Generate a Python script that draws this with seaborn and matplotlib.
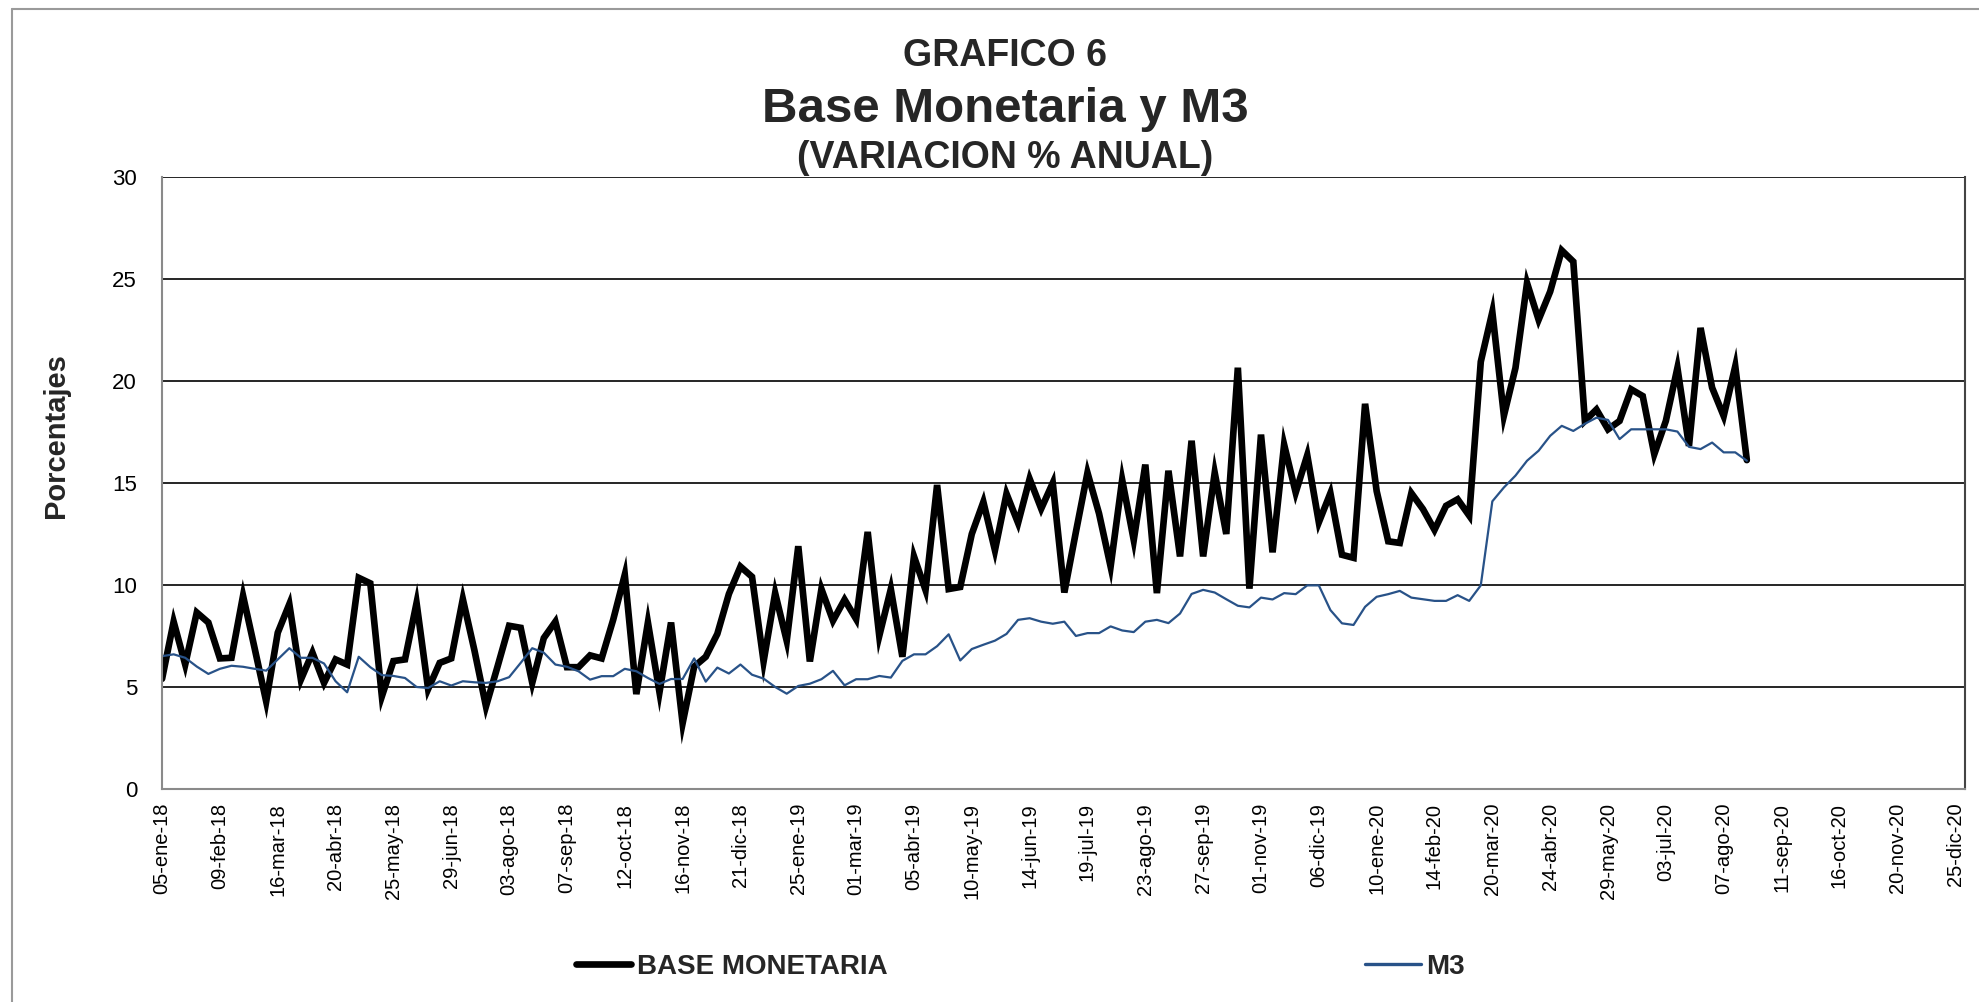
import matplotlib
matplotlib.use("Agg")
import matplotlib.pyplot as plt
import pandas as pd
import seaborn as sns

# --------------------------------------------------------------
# Datos: variación % anual semanal (05-ene-18 a 21-ago-20)
# --------------------------------------------------------------
fecha_inicio = "2018-01-05"
n_semanas = 138

base_monetaria = [
    5.4, 8.2, 6.1, 8.65, 8.16, 6.4, 6.43, 9.47, 6.9, 4.29,
    7.66, 9.06, 5.36, 6.68, 5.2, 6.35, 6.1, 10.35, 10.08, 4.54,
    6.27, 6.35, 9.12, 4.9, 6.18, 6.4, 9.31, 6.8, 4.05, 6.0,
    8.0, 7.9, 5.2, 7.4, 8.2, 5.97, 5.97, 6.55, 6.4, 8.3,
    10.5, 4.65, 8.16, 4.74, 8.16, 3.22, 6.0, 6.48, 7.6, 9.56,
    10.9, 10.4, 6.25, 9.6, 7.26, 11.9, 6.25, 9.8, 8.25, 9.28,
    8.33, 12.6, 7.5, 9.8, 6.48, 11.4, 9.75, 14.9, 9.8, 9.9,
    12.5, 14.07, 11.7, 14.47, 13.04, 15.2, 13.74, 15.0, 9.63, 12.6,
    15.5, 13.5, 10.9, 15.15, 12.2, 15.9, 9.6, 15.6, 11.4, 17.07,
    11.4, 15.5, 12.5, 20.65, 9.82, 17.37, 11.6, 16.88, 14.53, 16.36,
    13.07, 14.5, 11.48, 11.33, 18.88, 14.6, 12.14, 12.06, 14.5, 13.72,
    12.7, 13.88, 14.2, 13.4, 20.94, 23.38, 18.3, 20.64, 24.8, 23.0,
    24.38, 26.4, 25.85, 18.04, 18.6, 17.63, 18.04, 19.59, 19.26, 16.41,
    18.04, 20.64, 16.82, 22.6, 19.67, 18.28, 20.72, 16.12,
]

m3 = [
    6.51, 6.6, 6.43, 6.0, 5.64, 5.89, 6.04, 5.99, 5.89, 5.8,
    6.35, 6.9, 6.43, 6.43, 6.15, 5.28, 4.74, 6.48, 5.97, 5.58,
    5.54, 5.44, 5.0, 4.95, 5.28, 5.07, 5.28, 5.23, 5.2, 5.28,
    5.48, 6.18, 6.9, 6.68, 6.1, 5.99, 5.77, 5.36, 5.53, 5.53,
    5.89, 5.77, 5.44, 5.15, 5.39, 5.39, 6.4, 5.26, 5.95, 5.66,
    6.1, 5.6, 5.41, 5.0, 4.67, 5.05, 5.16, 5.38, 5.79, 5.08,
    5.38, 5.38, 5.54, 5.46, 6.28, 6.6, 6.6, 7.0, 7.58, 6.3,
    6.86, 7.07, 7.27, 7.6, 8.29, 8.37, 8.2, 8.1, 8.2, 7.5,
    7.64, 7.64, 7.97, 7.77, 7.69, 8.2, 8.29, 8.13, 8.6, 9.56,
    9.76, 9.63, 9.3, 8.98, 8.9, 9.38, 9.29, 9.6, 9.55, 9.98,
    9.98, 8.77, 8.12, 8.04, 8.93, 9.42, 9.55, 9.71, 9.38, 9.3,
    9.22, 9.22, 9.5, 9.22, 9.98, 14.1, 14.78, 15.36, 16.09, 16.58,
    17.31, 17.8, 17.55, 17.9, 18.2, 18.09, 17.15, 17.63, 17.63, 17.63,
    17.63, 17.52, 16.77, 16.66, 16.98, 16.5, 16.5, 16.09,
]

meses = ["ene", "feb", "mar", "abr", "may", "jun",
         "jul", "ago", "sep", "oct", "nov", "dic"]
y_ticks = [0, 5, 10, 15, 20, 25, 30]

fechas = pd.date_range(fecha_inicio, periods=n_semanas, freq="7D")
df = pd.DataFrame({"fecha": fechas, "BASE MONETARIA": base_monetaria, "M3": m3})

# ticks del eje x cada 5 semanas, hasta 25-dic-20
tick_fechas = pd.date_range(fecha_inicio, "2020-12-25", freq="35D")
tick_labels = [f"{d.day:02d}-{meses[d.month - 1]}-{d.strftime('%y')}" for d in tick_fechas]

# ==============================================================
# Estilo
# ==============================================================
sns.set_theme(style="white")
plt.rcParams["font.family"] = ["Liberation Sans", "DejaVu Sans"]

fig = plt.figure(figsize=(19.79, 10.02), dpi=100)
ax = fig.add_axes([0.0819, 0.2126, 0.911, 0.6108])

sns.lineplot(data=df, x="fecha", y="BASE MONETARIA", ax=ax, color="black",
             linewidth=4.8, label="BASE MONETARIA", solid_joinstyle="miter")
sns.lineplot(data=df, x="fecha", y="M3", ax=ax, color="#285288",
             linewidth=1.6, label="M3")

ax.set_xlim(pd.Timestamp(fecha_inicio), pd.Timestamp("2020-12-31"))
ax.set_ylim(0, 30)
ax.set_yticks(y_ticks)
ax.set_yticklabels([str(v) for v in y_ticks], fontsize=16)
ax.set_xticks(tick_fechas)
ax.set_xticklabels(tick_labels, rotation=90, fontsize=14.5)

ax.yaxis.grid(True, color="black", linewidth=1.2)
ax.xaxis.grid(False)
ax.set_axisbelow(True)

for side in ["left", "bottom"]:
    ax.spines[side].set_color("#8a8a8a")
    ax.spines[side].set_linewidth(1.5)
ax.spines["right"].set_color("#444444")
ax.spines["right"].set_linewidth(1.5)
ax.spines["top"].set_visible(False)

ax.tick_params(axis="both", which="major", direction="out", length=7,
               width=1.3, color="#8a8a8a", labelcolor="black")
ax.tick_params(axis="y", pad=11)
ax.tick_params(axis="x", pad=3)

ax.set_xlabel("")
ax.set_ylabel("Porcentajes", fontsize=21, fontweight="bold")
ax.yaxis.set_label_coords(-0.051, 0.578)

# Títulos
fig.text(0.508, 0.944, "GRAFICO 6", ha="center", va="center",
         fontsize=27, fontweight="bold")
fig.text(0.508, 0.891, "Base Monetaria y M3", ha="center", va="center",
         fontsize=35.5, fontweight="bold")
fig.text(0.508, 0.842, "(VARIACION % ANUAL)", ha="center", va="center",
         fontsize=27, fontweight="bold")

# Leyenda inferior
ax.legend_.remove()
handles, labels = ax.get_legend_handles_labels()
leg = fig.legend(handles, labels, loc="center left", bbox_to_anchor=(0.291, 0.035),
                 ncol=2, frameon=False, prop={"weight": "bold", "size": 20},
                 handlelength=2.0, handletextpad=0.2, columnspacing=17.2,
                 borderpad=0, borderaxespad=0)
leg.get_lines()[0].set_solid_capstyle("round")
leg.get_lines()[1].set_linewidth(2.4)

# Marco exterior del gráfico
fig.add_artist(plt.Line2D([0.006, 0.006], [0, 0.991], color="#9a9a9a", linewidth=1.5))
fig.add_artist(plt.Line2D([0.006, 1.0], [0.991, 0.991], color="#9a9a9a", linewidth=1.5))

fig.savefig("out.png", dpi=100)
plt.close(fig)
